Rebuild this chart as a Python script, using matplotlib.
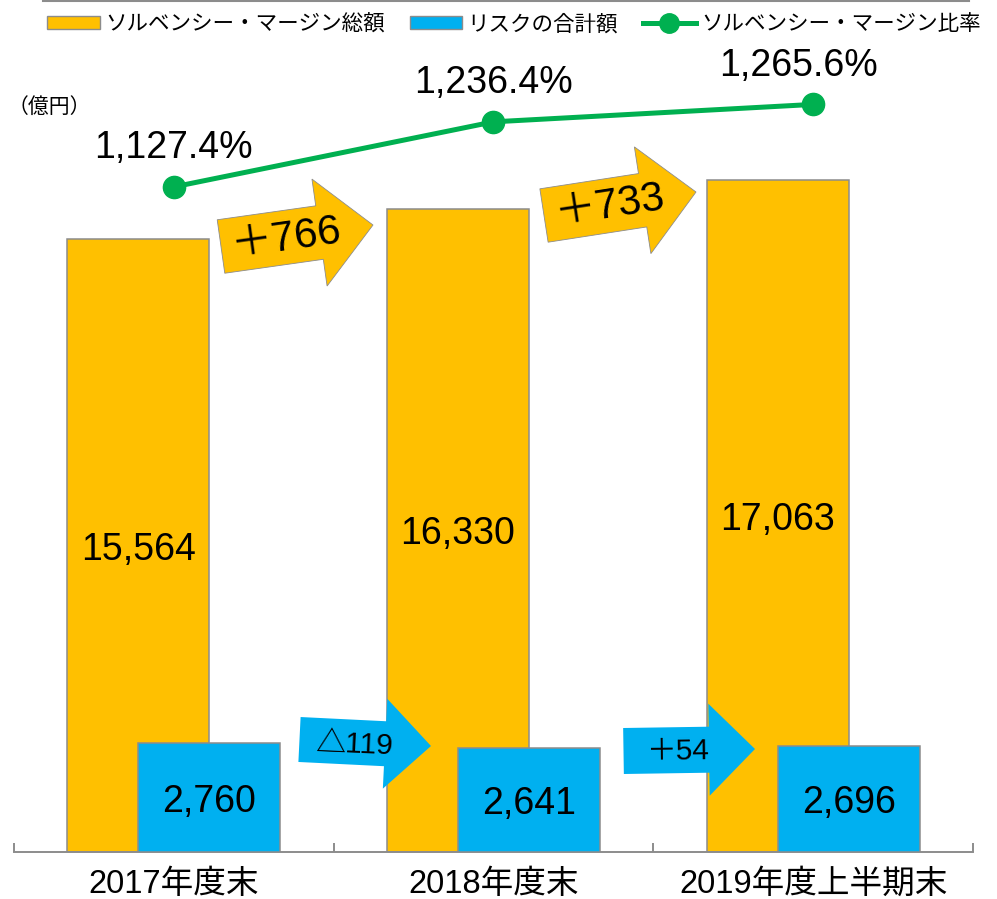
import numpy as np
import matplotlib
matplotlib.use("Agg")
import matplotlib.pyplot as plt
from matplotlib.patches import Polygon, Patch
from matplotlib.lines import Line2D

plt.rcParams['font.family'] = ['Liberation Sans', 'Noto Sans CJK JP', 'DejaVu Sans']

# ---------------- data ----------------
categories = ['2017年度末', '2018年度末', '2019年度上半期末']
margin_total = [15564, 16330, 17063]          # ソルベンシー・マージン総額
risk_total = [2760, 2641, 2696]               # リスクの合計額
margin_ratio = [1127.4, 1236.4, 1265.6]       # ソルベンシー・マージン比率 (%)
margin_change_labels = ['＋766', '＋733']
risk_change_labels = ['△119', '＋54']
series_names = ['ソルベンシー・マージン総額', 'リスクの合計額', 'ソルベンシー・マージン比率']
unit_label = '（億円）'

ORANGE = '#FFC000'
BLUE = '#00B0F0'
GREEN = '#00B050'
GREY = '#8C8C8C'

W, H = 997, 899
fig = plt.figure(figsize=(W / 100, H / 100), dpi=100)

# main axes (pixel layout: left 14, right 973, bottom 852, top 60)
ax = fig.add_axes([14 / W, (H - 852) / H, 959 / W, 792 / H])
x = np.arange(len(categories))
bw = 0.445
off = 0.111
ax.bar(x - off, margin_total, bw, color=ORANGE, edgecolor=GREY, linewidth=1.1, zorder=2)
ax.bar(x + off, risk_total, bw, color=BLUE, edgecolor=GREY, linewidth=1.1, zorder=3)
ax.set_xlim(-0.5, 2.5)
ax.set_ylim(0, 20100)

for xi, v in zip(x, margin_total):
    ax.annotate(f'{v:,}', (xi - off, v / 2), xytext=(0, -3), textcoords='offset points',
                ha='center', va='center', fontsize=27, zorder=4)
for xi, v in zip(x, risk_total):
    ax.annotate(f'{v:,}', (xi + off, v / 2), xytext=(0, -3), textcoords='offset points',
                ha='center', va='center', fontsize=27, zorder=4)

for s in ['top', 'left', 'right']:
    ax.spines[s].set_visible(False)
ax.spines['bottom'].set_color(GREY)
ax.spines['bottom'].set_linewidth(1.4)
ax.set_yticks([])
ax.set_xticks(x)
ax.set_xticklabels(categories, fontsize=23.5)
ax.tick_params(axis='x', which='major', length=0, pad=12)
ax.set_xticks([-0.5, 0.5, 1.5, 2.5], minor=True)
ax.tick_params(axis='x', which='minor', length=6.5, width=1.4, color=GREY, direction='in')
ax.patch.set_alpha(0)

# secondary axis for the ratio line
ax2 = ax.twinx()
ax2.set_ylim(13, 1340)
ax2.axis('off')
ax2.plot(x, margin_ratio, color=GREEN, linewidth=3.6, marker='o', markersize=16, zorder=5)
lab_dx = [0, 0, -15]
for xi, v, dx in zip(x, margin_ratio, lab_dx):
    ax2.annotate(f'{v:,.1f}%', (xi, v), xytext=(dx * 0.72, 28), textcoords='offset points',
                 ha='center', va='center', fontsize=27)

# overlay (pixel coords, y down) for arrow call-outs
ov = fig.add_axes([0, 0, 1, 1])
ov.set_xlim(0, W)
ov.set_ylim(H, 0)
ov.axis('off')
ov.patch.set_alpha(0)


def arrow_poly(T, P, w, h, L):
    T = np.array(T, float); P = np.array(P, float)
    u = (P - T) / np.linalg.norm(P - T)
    n = np.array([-u[1], u[0]])
    B = P - L * u
    return [T + w * n, B + w * n, B + h * n, P, B - h * n, B - w * n, T - w * n]


# (tail, tip, shaft half-width, head half-width, head length, text centre, rotation)
orange_arrows = [((221, 246.5), (373, 225), 27, 54, 54, (286, 238), 8.0),
                 ((544, 215.5), (696, 192), 27, 54, 54, (609, 206), 8.8)]
blue_arrows = [((299.5, 739.5), (431, 746), 22.5, 45, 46, (354, 745), -2.5),
               ((623.5, 751), (755, 749), 23, 46, 46, (678, 752), 0.8)]

for (T, P, w, h, L, c, r), lab in zip(orange_arrows, margin_change_labels):
    ov.add_patch(Polygon(arrow_poly(T, P, w, h, L), closed=True, facecolor=ORANGE,
                         edgecolor=GREY, linewidth=0.6))
    ov.text(c[0], c[1], lab, ha='center', va='center', fontsize=30, rotation=r,
            rotation_mode='anchor')
for (T, P, w, h, L, c, r), lab in zip(blue_arrows, risk_change_labels):
    ov.add_patch(Polygon(arrow_poly(T, P, w, h, L), closed=True, facecolor=BLUE,
                         edgecolor='none'))
    ov.text(c[0], c[1], lab, ha='center', va='center', fontsize=21.5, rotation=r,
            rotation_mode='anchor')

# top rule and unit label
ov.plot([43, 969], [1, 1], color=GREY, linewidth=1.5)
ov.text(8, 107, unit_label, ha='left', va='center', fontsize=15)

# legend
handles = [Patch(facecolor=ORANGE, edgecolor=GREY, linewidth=1.0),
           Patch(facecolor=BLUE, edgecolor=GREY, linewidth=1.0),
           Line2D([0], [0], color=GREEN, linewidth=3.6, marker='o', markersize=14)]
fig.legend(handles, series_names, loc='center left',
           bbox_to_anchor=(47 / W, 1 - 25 / H), ncol=3, frameon=False,
           fontsize=15.5, borderpad=0, borderaxespad=0, handlelength=2.45,
           handleheight=0.55, handletextpad=0.25, columnspacing=1.15)

fig.savefig('out.png', dpi=100)
